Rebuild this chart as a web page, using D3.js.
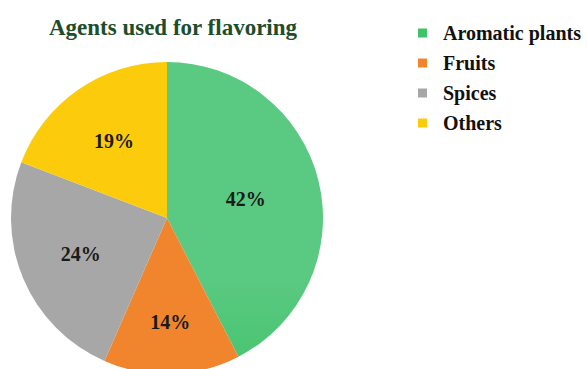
<!DOCTYPE html>
<html>
<head>
<meta charset="utf-8">
<script src="https://cdn.jsdelivr.net/npm/d3@7"></script>
<style>
  html, body { margin: 0; padding: 0; background: #ffffff; }
  svg { display: block; }
</style>
</head>
<body>
<svg id="chart" width="587" height="369"></svg>
<script>
// Flavoring agents share (%)
const categories = ["Aromatic plants", "Fruits", "Spices", "Others"];
const values = [42, 14, 24, 19];
const colors = ["#3fc268", "#f0852e", "#a7a7a7", "#fccb0c"];
const titleText = "Agents used for flavoring";

const width = 587, height = 369;
const cx = 167, cy = 218, radius = 156;
// label distance from centre, as a fraction of the radius, per slice
const labelRadiusFrac = [0.52, 0.67, 0.6, 0.6];

const svg = d3.select("#chart");
const defs = svg.append("defs");

// Vertical gradient for the green slice
const grad = defs.append("linearGradient")
  .attr("id", "greenGrad")
  .attr("gradientUnits", "userSpaceOnUse")
  .attr("x1", 0).attr("y1", cy - radius)
  .attr("x2", 0).attr("y2", cy + radius);
grad.append("stop").attr("offset", "0%").attr("stop-color", "#5ac981");
grad.append("stop").attr("offset", "40%").attr("stop-color", "#40c36a");
grad.append("stop").attr("offset", "100%").attr("stop-color", "#2eb958");

const fills = colors.slice();
fills[0] = "url(#greenGrad)";

const data = categories.map((c, i) => ({ name: c, value: values[i], fill: fills[i], color: colors[i], lr: labelRadiusFrac[i] }));

const pie = d3.pie().sort(null).value(d => d.value);
const arc = d3.arc().innerRadius(0).outerRadius(radius);

const g = svg.append("g").attr("transform", `translate(${cx},${cy})`);
const arcs = pie(data);

g.selectAll("path.slice")
  .data(arcs)
  .join("path")
  .attr("class", "slice")
  .attr("d", arc)
  .attr("fill", d => d.data.fill);

g.selectAll("text.pct")
  .data(arcs)
  .join("text")
  .attr("class", "pct")
  .attr("transform", d => {
    const r = radius * d.data.lr;
    return `translate(${d3.arc().innerRadius(r).outerRadius(r).centroid(d)})`;
  })
  .attr("text-anchor", "middle")
  .attr("dy", "0.35em")
  .style("font-family", "'Liberation Serif', 'Times New Roman', serif")
  .style("font-weight", "bold")
  .style("font-size", "20px")
  .style("fill", "#1a1a1a")
  .text(d => d.data.value + "%");

// Title
svg.append("text")
  .attr("x", cx + 6)
  .attr("y", 35)
  .attr("text-anchor", "middle")
  .style("font-family", "'Liberation Serif', 'Times New Roman', serif")
  .style("font-weight", "bold")
  .style("font-size", "23px")
  .style("fill", "#1d4d2b")
  .text(titleText);

// Legend
const legend = svg.append("g").attr("transform", "translate(418,33)");
const rowStep = 30;
const item = legend.selectAll("g.item")
  .data(data)
  .join("g")
  .attr("class", "item")
  .attr("transform", (d, i) => `translate(0,${i * rowStep})`);

item.append("rect")
  .attr("x", 0).attr("y", -4.5)
  .attr("width", 9).attr("height", 9)
  .attr("fill", d => d.color);

item.append("text")
  .attr("x", 25)
  .attr("dy", "0.35em")
  .style("font-family", "'Liberation Serif', 'Times New Roman', serif")
  .style("font-weight", "bold")
  .style("font-size", "20px")
  .style("fill", "#111")
  .text(d => d.name);
</script>
</body>
</html>
